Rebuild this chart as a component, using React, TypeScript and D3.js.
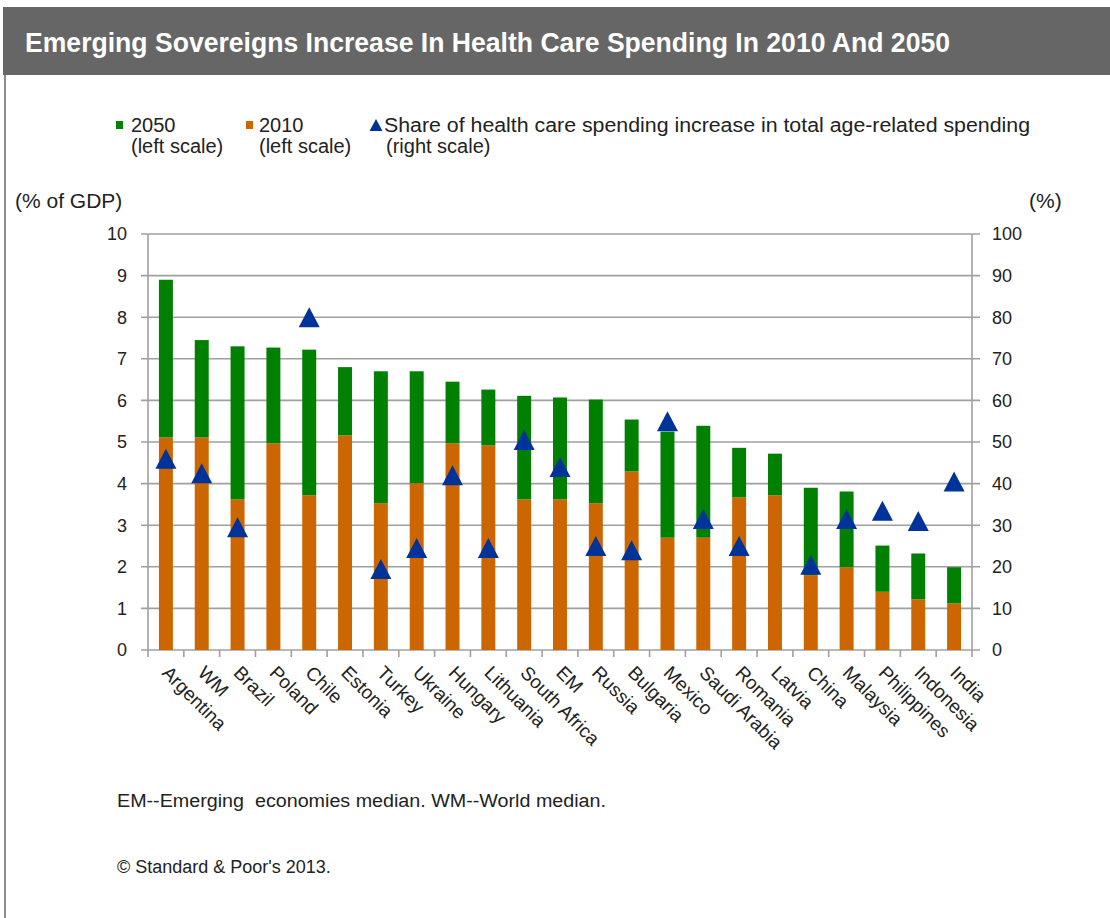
import React, { useEffect, useRef } from 'react';
import * as d3 from 'd3';

// categories in chart order (left to right)
const categories = [
  'Argentina', 'WM', 'Brazil', 'Poland', 'Chile', 'Estonia', 'Turkey', 'Ukraine',
  'Hungary', 'Lithuania', 'South Africa', 'EM', 'Russia', 'Bulgaria', 'Mexico',
  'Saudi Arabia', 'Romania', 'Latvia', 'China', 'Malaysia', 'Philippines', 'Indonesia', 'India',
];

// % of GDP, left scale
const spending2050 = [
  8.9, 7.45, 7.3, 7.27, 7.22, 6.8, 6.7, 6.7, 6.45, 6.26, 6.11, 6.07, 6.02, 5.54, 5.25,
  5.39, 4.86, 4.72, 3.9, 3.81, 2.51, 2.32, 1.99,
];
const spending2010 = [
  5.11, 5.11, 3.62, 4.97, 3.72, 5.16, 3.53, 4.01, 4.97, 4.92, 3.62, 3.62, 3.53, 4.29, 2.7,
  2.7, 3.67, 3.72, 1.8, 1.99, 1.4, 1.22, 1.12,
];
// %, right scale (null = no marker)
const healthShare: (number | null)[] = [
  46, 42.5, 29.5, null, 80, null, 19.5, 24.5, 42, 24.5, 50.5, 44, 25, 24, 55,
  31.5, 25, null, 20.5, 31.5, 33.5, 31, 40.5,
];

const leftTicks = [0, 1, 2, 3, 4, 5, 6, 7, 8, 9, 10];
const rightTicks = [0, 10, 20, 30, 40, 50, 60, 70, 80, 90, 100];

const GREEN = '#008000';
const ORANGE = '#cc6600';
const BLUE = '#003399';
const GRID = '#a0a0a0';
const FONT = '"Liberation Sans", Arial, sans-serif';

const App: React.FC = () => {
  const svgRef = useRef<SVGSVGElement>(null);

  useEffect(() => {
    const svg = d3.select(svgRef.current);
    svg.selectAll('*').remove();

    const W = 1110, H = 918;
    const plot = { left: 148, right: 972, top: 234, bottom: 650 };

    svg.attr('width', W).attr('height', H);
    svg.append('rect').attr('width', W).attr('height', H).attr('fill', '#fff');

    // header bar
    svg.append('rect').attr('x', 3).attr('y', 7).attr('width', W - 3).attr('height', 68).attr('fill', '#666666');
    svg.append('text')
      .attr('x', 25).attr('y', 52)
      .attr('fill', '#fff')
      .attr('font-family', FONT)
      .attr('font-weight', 'bold')
      .attr('font-size', 28)
      .attr('textLength', 925)
      .attr('lengthAdjust', 'spacingAndGlyphs')
      .text('Emerging Sovereigns Increase In Health Care Spending In 2010 And 2050');

    // left frame line
    svg.append('line').attr('x1', 5).attr('x2', 5).attr('y1', 75).attr('y2', H)
      .attr('stroke', '#8c8c8c').attr('stroke-width', 2);

    const x = d3.scaleBand().domain(categories).range([plot.left, plot.right]).padding(0);
    const barW = x.bandwidth() * 0.39;
    const yL = d3.scaleLinear().domain([0, 10]).range([plot.bottom, plot.top]);
    const yR = d3.scaleLinear().domain([0, 100]).range([plot.bottom, plot.top]);

    // gridlines
    svg.append('g').selectAll('line').data(leftTicks).enter().append('line')
      .attr('x1', plot.left - 7).attr('x2', plot.right + 8)
      .attr('y1', d => yL(d)).attr('y2', d => yL(d))
      .attr('stroke', GRID).attr('stroke-width', 1.6);

    // axis lines
    svg.append('line').attr('x1', plot.left).attr('x2', plot.left).attr('y1', plot.top).attr('y2', plot.bottom)
      .attr('stroke', GRID).attr('stroke-width', 1.6);
    svg.append('line').attr('x1', plot.right).attr('x2', plot.right).attr('y1', plot.top).attr('y2', plot.bottom)
      .attr('stroke', GRID).attr('stroke-width', 1.6);

    // category boundary ticks
    const bounds = categories.map(c => x(c) as number).concat([plot.right]);
    svg.append('g').selectAll('line').data(bounds).enter().append('line')
      .attr('x1', d => d).attr('x2', d => d)
      .attr('y1', plot.bottom).attr('y2', plot.bottom + 7)
      .attr('stroke', GRID).attr('stroke-width', 1.6);

    // tick labels
    svg.append('g').selectAll('text').data(leftTicks).enter().append('text')
      .attr('x', 127).attr('y', d => yL(d)).attr('dy', '0.35em')
      .attr('text-anchor', 'end')
      .attr('font-family', FONT).attr('font-size', 18).attr('fill', '#222')
      .text(d => d);
    svg.append('g').selectAll('text').data(rightTicks).enter().append('text')
      .attr('x', 992).attr('y', d => yR(d)).attr('dy', '0.35em')
      .attr('font-family', FONT).attr('font-size', 18).attr('fill', '#222')
      .text(d => d);

    // stacked bars
    const rows = categories.map((c, i) => ({ c, v10: spending2010[i], v50: spending2050[i], s: healthShare[i] }));
    const bars = svg.append('g');
    bars.selectAll('.b10').data(rows).enter().append('rect')
      .attr('x', d => (x(d.c) as number) + (x.bandwidth() - barW) / 2)
      .attr('width', barW)
      .attr('y', d => yL(d.v10))
      .attr('height', d => yL(0) - yL(d.v10))
      .attr('fill', ORANGE);
    bars.selectAll('.b50').data(rows).enter().append('rect')
      .attr('x', d => (x(d.c) as number) + (x.bandwidth() - barW) / 2)
      .attr('width', barW)
      .attr('y', d => yL(d.v50))
      .attr('height', d => yL(d.v10) - yL(d.v50))
      .attr('fill', GREEN);

    // triangle markers
    const tri = (w: number, h: number) => `M0,${-h / 2}L${w / 2},${h / 2}L${-w / 2},${h / 2}Z`;
    svg.append('g').selectAll('path').data(rows.filter(r => r.s !== null)).enter().append('path')
      .attr('d', tri(21, 20))
      .attr('transform', d => `translate(${(x(d.c) as number) + x.bandwidth() / 2},${yR(d.s as number)})`)
      .attr('fill', BLUE);

    // x labels
    svg.append('g').selectAll('text').data(categories).enter().append('text')
      .attr('transform', d => `translate(${(x(d) as number) + x.bandwidth() / 2 - 5},${plot.bottom + 24}) rotate(45)`)
      .attr('font-family', FONT).attr('font-size', 19).attr('fill', '#222')
      .text(d => d);

    // axis titles
    svg.append('text').attr('x', 15).attr('y', 208)
      .attr('font-family', FONT).attr('font-size', 21).attr('fill', '#222').text('(% of GDP)');
    svg.append('text').attr('x', 1029).attr('y', 208)
      .attr('font-family', FONT).attr('font-size', 21).attr('fill', '#222').text('(%)');

    // legend
    const lg = svg.append('g').attr('font-family', FONT).attr('font-size', 20).attr('fill', '#222');
    lg.append('rect').attr('x', 116).attr('y', 121).attr('width', 7).attr('height', 8).attr('fill', GREEN);
    lg.append('text').attr('x', 131).attr('y', 132).text('2050');
    lg.append('text').attr('x', 131).attr('y', 153).text('(left scale)');
    lg.append('rect').attr('x', 246).attr('y', 121).attr('width', 7).attr('height', 8).attr('fill', ORANGE);
    lg.append('text').attr('x', 259).attr('y', 132).text('2010');
    lg.append('text').attr('x', 259).attr('y', 153).text('(left scale)');
    lg.append('path').attr('d', tri(13, 12)).attr('transform', 'translate(376,125)').attr('fill', BLUE);
    lg.append('text').attr('x', 384).attr('y', 132)
      .attr('textLength', 646).attr('lengthAdjust', 'spacingAndGlyphs')
      .text('Share of health care spending increase in total age-related spending');
    lg.append('text').attr('x', 386).attr('y', 153).text('(right scale)');

    // footnotes
    const fn = svg.append('g').attr('font-family', FONT).attr('font-size', 18).attr('fill', '#222');
    fn.append('text').attr('x', 117).attr('y', 807)
      .attr('textLength', 489).attr('lengthAdjust', 'spacingAndGlyphs')
      .attr('xml:space', 'preserve')
      .text('EM--Emerging  economies median. WM--World median.');
    fn.append('text').attr('x', 117).attr('y', 873)
      .text("\u00a9 Standard & Poor's 2013.");
  }, []);

  return (
    <div style={{ position: 'absolute', left: 0, top: 0 }}>
      <svg ref={svgRef} style={{ display: 'block' }}></svg>
    </div>
  );
};

export default App;
